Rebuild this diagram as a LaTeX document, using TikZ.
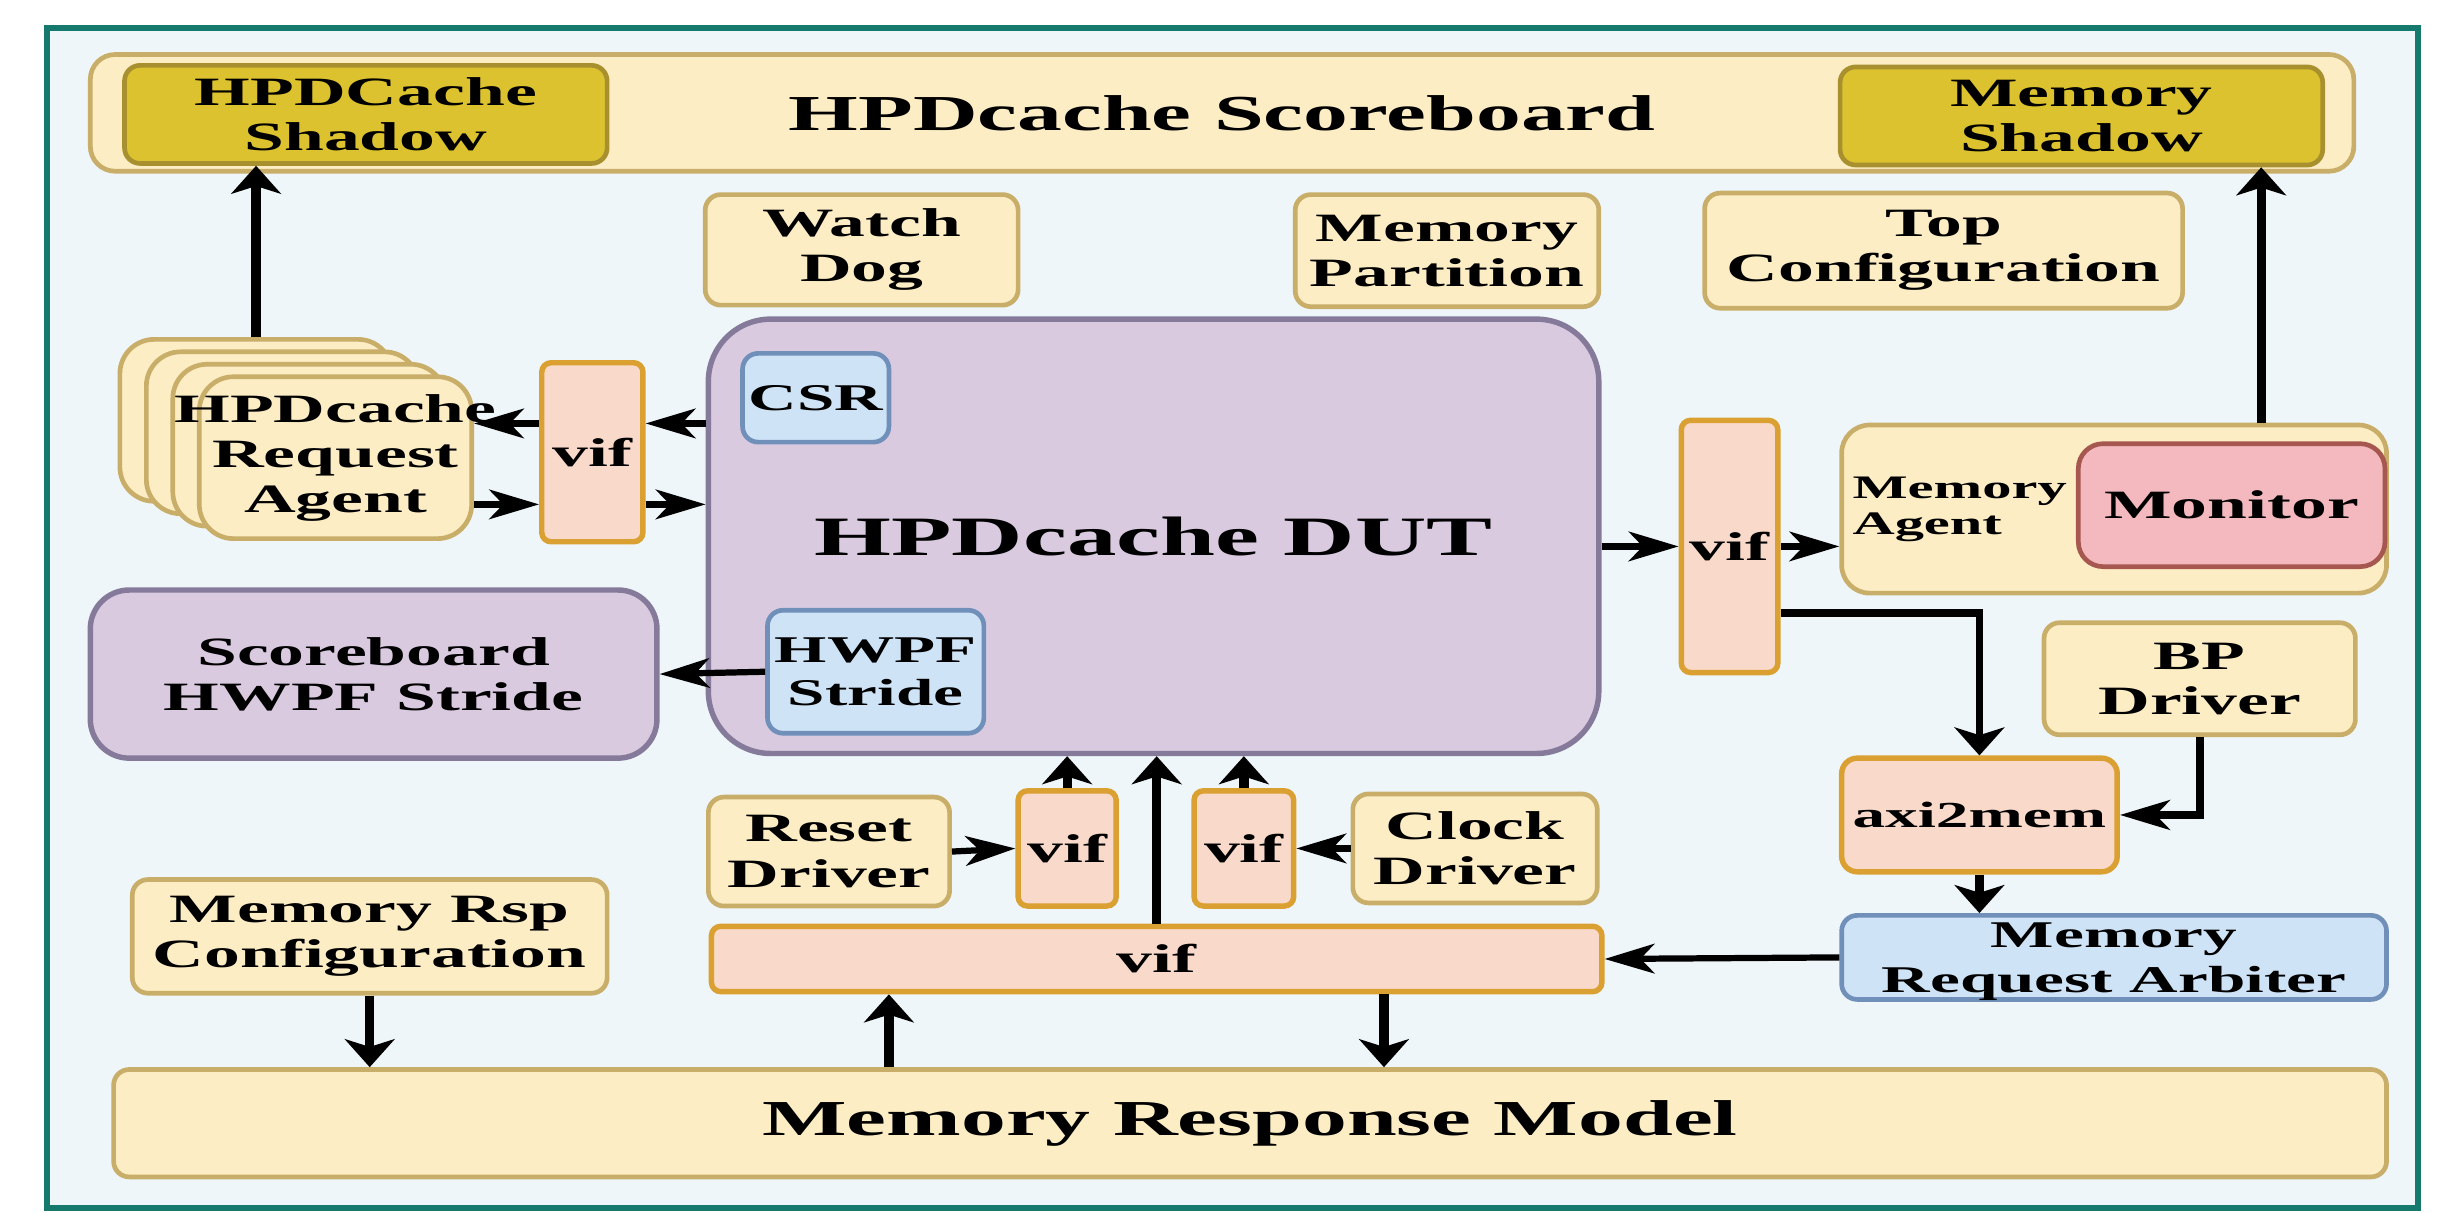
\documentclass[tikz,border=0pt]{standalone}
\usepackage{fontspec}
\setmainfont{Liberation Serif}[FakeStretch=1.78]
\usepackage{tikz}
\usetikzlibrary{calc, %for relative coord calculations
                arrows.meta, % for stealth tips
                positioning}

\definecolor{frameteal}{HTML}{16796D}
\definecolor{bgblue}{HTML}{EEF6F9}
\definecolor{creamfill}{HTML}{FCEDC4}
\definecolor{creamdraw}{HTML}{C8AE68}
\definecolor{shadowfill}{HTML}{DCC22E}
\definecolor{shadowdraw}{HTML}{A8902E}
\definecolor{viffill}{HTML}{F9D9C9}
\definecolor{vifdraw}{HTML}{DBA032}
\definecolor{dutfill}{HTML}{D9CAE0}
\definecolor{dutdraw}{HTML}{857A9A}
\definecolor{regfill}{HTML}{CFE3F6}
\definecolor{regdraw}{HTML}{7090BA}
\definecolor{monfill}{HTML}{F3B9BE}
\definecolor{mondraw}{HTML}{A6574F}

\newdimen \pxu
\pxu = 0.2mm
\newcommand{\boxfont}{\fontsize{14.7}{16.5}\selectfont\bfseries}
\newcommand{\titlefont}{\fontsize{18.4}{20}\selectfont\bfseries}
\newcommand{\dutfont}{\fontsize{20.3}{22}\selectfont\bfseries}
\newcommand{\agentfont}{\fontsize{12}{13.1}\selectfont\bfseries}
\newcommand{\regfont}{\fontsize{13.8}{15.8}\selectfont\bfseries}
\newcommand{\arbfont}{\fontsize{13.8}{16.5}\selectfont\bfseries}
\newcommand{\axifont}{\fontsize{13.4}{15}\selectfont\bfseries}

\begin{document}
\begin{tikzpicture}[x=0.2mm, y=-0.2mm,
                    cbox/.style={draw=creamdraw, fill=creamfill, line width=3\pxu, rounded corners=10\pxu,
                                 inner sep=0pt, align=center, font=\boxfont},
                    sbox/.style={cbox, draw=shadowdraw, fill=shadowfill},
                    vbox/.style={cbox, draw=vifdraw, fill=viffill, line width=3.5\pxu, rounded corners=6\pxu},
                    pbox/.style={cbox, draw=dutdraw, fill=dutfill, line width=3.5\pxu, rounded corners=25\pxu},
                    rbox/.style={cbox, draw=regdraw, fill=regfill, font=\regfont},
                    mbox/.style={cbox, draw=mondraw, fill=monfill},
                    wh/.style 2 args={minimum width=#1\pxu, minimum height=#2\pxu},
                    vflow/.style={-{Stealth[length=3.6mm, width=6.4mm, inset=1mm]}, line width=6\pxu},
                    hflow/.style={-{Stealth[length=6.4mm, width=3.8mm, inset=1.8mm]}, line width=4\pxu}
                    ]
    % page and frame
    \path[use as bounding box, fill=white] (0,0) rectangle (1568,779);
    \draw[draw=frameteal, fill=bgblue, line width=4\pxu] (30,18) rectangle (1553,776);

    % scoreboard row
    \node[cbox, wh={1454}{75}, rounded corners=16\pxu, font=\titlefont] at (785,72.5) (sb) {HPDcache Scoreboard};
    \node[sbox, wh={310}{63}] at (235,73.5)  (hshadow)   {HPDCache\\Shadow};
    \node[sbox, wh={310}{63}] at (1337,74.5) (memshadow) {Memory\\Shadow};

    % config boxes
    \node[cbox, wh={201}{71}] at (553.5,160.5) (watchdog) {Watch\\Dog};
    \node[cbox, wh={195}{72}] at (929.5,161)   (mempart)  {Memory\\Partition};
    \node[cbox, wh={307}{74}] at (1248.5,161)  (topcfg)   {Top\\Configuration};

    % request agents (stacked)
    \node[cbox, wh={175}{104}, rounded corners=22\pxu] at (164.5,270) (agent0) {};
    \node[cbox, wh={175}{104}, rounded corners=22\pxu] at (181.5,278) (agent1) {};
    \node[cbox, wh={175}{104}, rounded corners=22\pxu] at (198.5,286) (agent2) {};
    \node[cbox, wh={175}{104}, rounded corners=22\pxu] at (215.5,294) (agent3) {};
    \node[font=\boxfont, align=center] at (agent3.center) (agenttext) {HPDcache\\Request\\Agent};
    \node[vbox, wh={65}{115}] at (380.5,290.5) (vifL) {vif};

    % DUT
    \node[pbox, wh={572}{279}, rounded corners=40\pxu, font=\dutfont] at (741,344.5) (dut) {HPDcache DUT};
    \node[rbox, wh={94}{57}]  at (524,255.5) (csr)  {CSR};
    \node[rbox, wh={139}{79}] at (562.5,431.5) (hwpf) {HWPF\\Stride};
    \node[pbox, wh={364}{108}] at (240,433) (sbhwpf) {Scoreboard\\HWPF Stride};

    % memory side
    \node[vbox, wh={62}{162}] at (1111,351) (vifR) {vif};
    \node[cbox, wh={350}{108}, rounded corners=18\pxu, text width=336\pxu, align=left, font=\agentfont]
        at (1358,327) (memagent) {Memory\\Agent};
    \node[mbox, wh={197}{79}, rounded corners=16\pxu] at (1433.5,324.5) (monitor) {Monitor};
    \node[cbox, wh={200}{72}] at (1413,436) (bp) {BP\\Driver};
    \node[vbox, wh={177}{73}, rounded corners=10\pxu, font=\axifont] at (1271.5,523.5) (axi) {axi2mem};
    \node[rbox, wh={350}{54}] at (1358,615) (arb) {};
    \node[font=\arbfont, align=center] at (1358,618) (arbtext) {Memory\\Request Arbiter};

    % drivers, vif bar, response model
    \node[cbox, wh={155}{70}] at (532.5,547) (reset) {Reset\\Driver};
    \node[vbox, wh={63}{74}]  at (685.5,545) (vif1)  {vif};
    \node[vbox, wh={64}{74}]  at (799,545)   (vif2)  {vif};
    \node[cbox, wh={157}{70}] at (947.5,545) (clock) {Clock\\Driver};
    \node[vbox, wh={572}{42}] at (743,616)   (vifB)  {vif};
    \node[cbox, wh={305}{73}] at (237.5,601.5) (rspcfg) {Memory Rsp\\Configuration};
    \node[cbox, wh={1460}{69}, font=\titlefont] at (803,721.5) (model) {Memory Response Model};

    % links to the scoreboard
    \coordinate (monup) at ($(memagent.north east)+(-82,0)$);
    \draw[vflow] (agent0.north) -- (agent0.north |- hshadow.south);
    \draw[vflow] (monup) -- (monup |- memshadow.south);

    % agent <-> vif <-> DUT
    \coordinate (rowA) at (0,272);
    \coordinate (rowB) at (0,324);
    \draw[hflow] (dut.west |- rowA)    --  (vifL.east |- rowA);
    \draw[hflow] (vifL.west |- rowA)   --  (agent3.east |- rowA);
    \draw[hflow] (agent3.east |- rowB) --  (vifL.west |- rowB);
    \draw[hflow] (vifL.east |- rowB)   --  (dut.west |- rowB);
    \draw[hflow] (hwpf.west) -- (sbhwpf.east);

    % memory side links
    \draw[hflow] (dut.east |- vifR.west) -- (vifR.west);
    \draw[hflow] (vifR.east) -- (vifR.east -| memagent.west);
    \draw[vflow, line width=5\pxu] ($(vifR.south east)+(0,-40)$) -| (axi.north);
    \draw[hflow, line width=5\pxu] (bp.south) |- (axi.east);
    \draw[vflow] (axi.south) -- (axi.south |- arb.north);
    \draw[hflow] (arb.west) -- (vifB.east);

    % drivers into the DUT
    \draw[hflow] (reset.east) -- (vif1.west);
    \draw[hflow] (clock.west) -- (vif2.east);
    \draw[vflow] (vif1.north) -- (vif1.north |- dut.south);
    \draw[vflow] (vif2.north) -- (vif2.north |- dut.south);
    \draw[vflow] (vifB.north) -- (vifB.north |- dut.south);

    % response model
    \coordinate (colA) at (571,0);
    \coordinate (colB) at (889,0);
    \draw[vflow] (model.north -| colA) -- (vifB.south -| colA);
    \draw[vflow] (vifB.south -| colB) -- (model.north -| colB);
    \draw[vflow] (rspcfg.south) -- (rspcfg.south |- model.north);

\end{tikzpicture}
\end{document}
